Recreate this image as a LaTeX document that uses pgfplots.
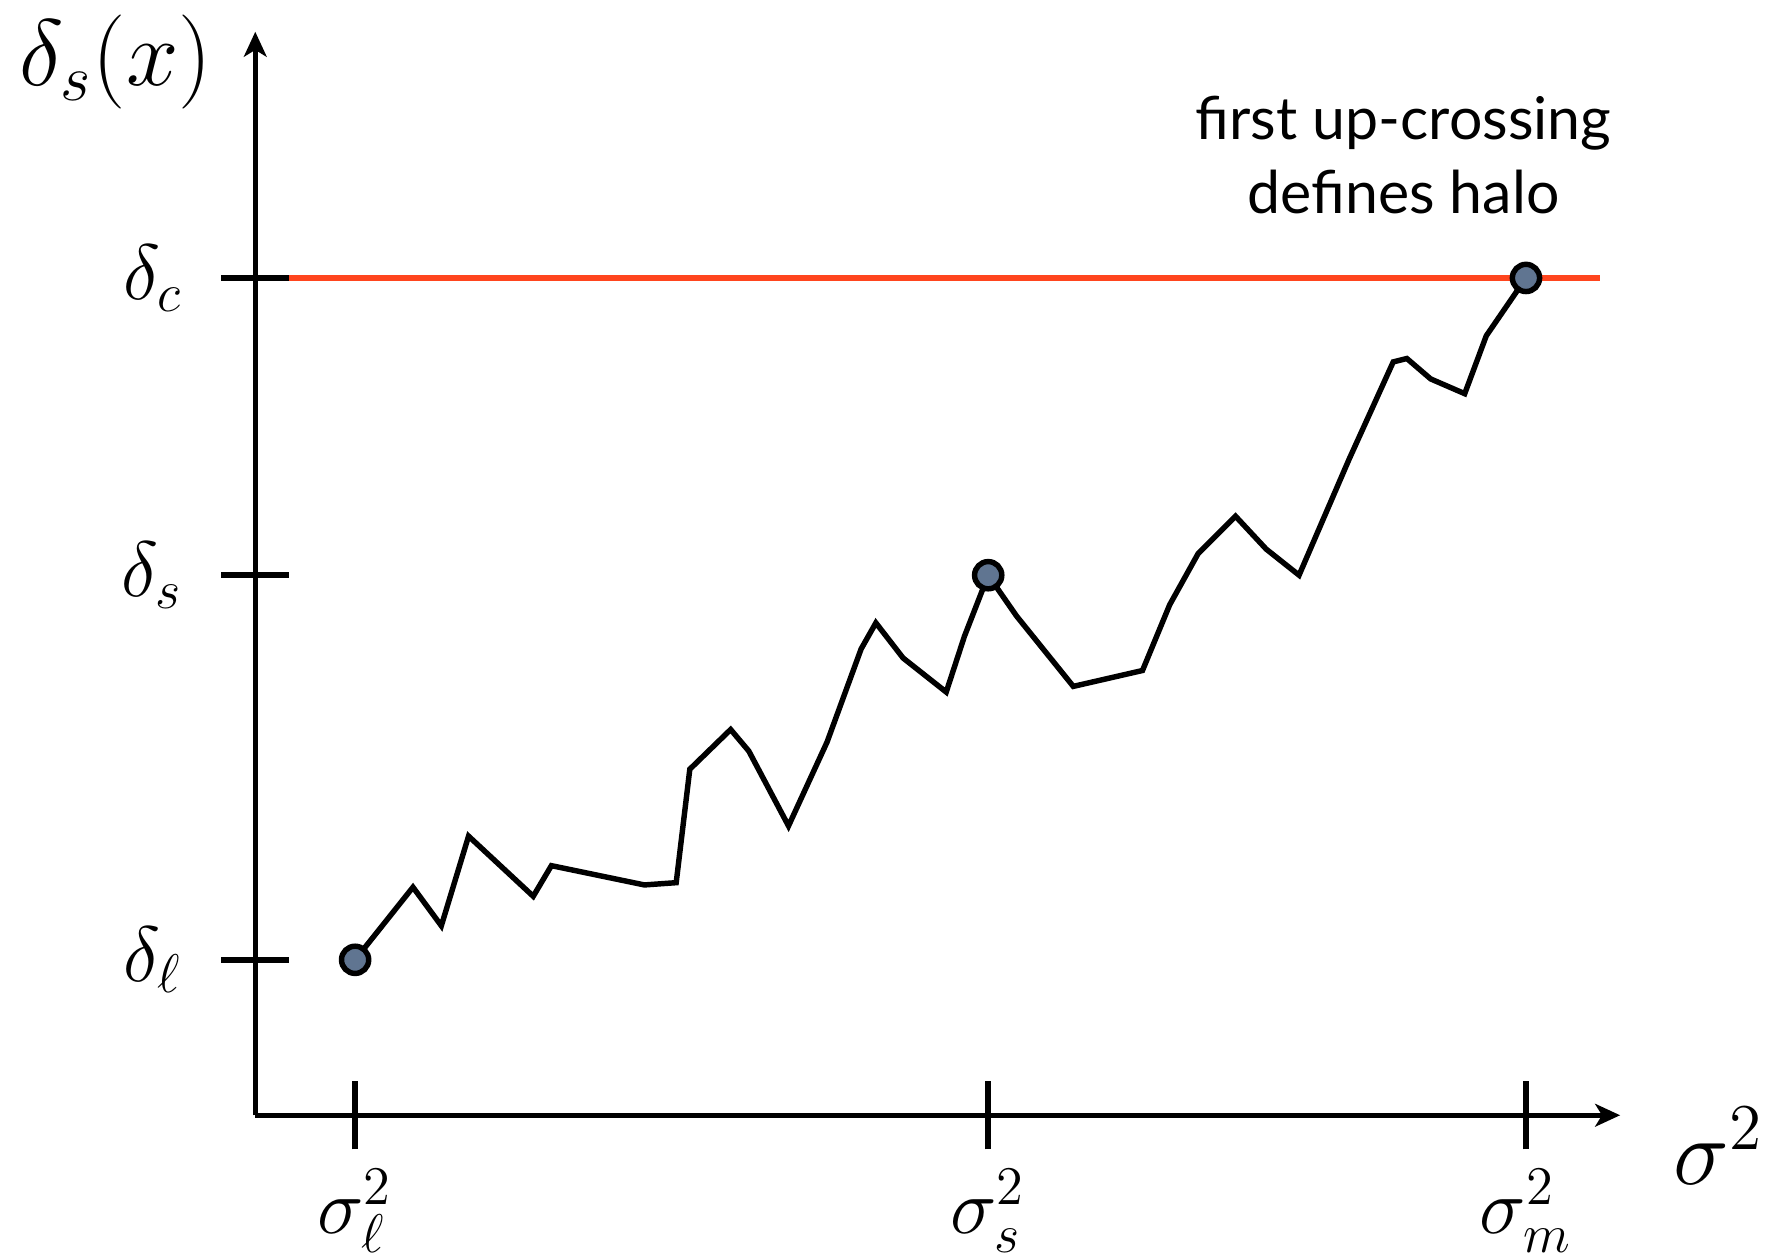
\documentclass[border=0pt]{standalone}
\usepackage{pgfplots}
\pgfplotsset{compat=1.18}
\usepackage{fontspec}
\newfontfamily\notefont{Lato}
\usetikzlibrary{arrows.meta}
\definecolor{critred}{RGB}{255,69,30}
\definecolor{dotfill}{RGB}{96,117,145}
\begin{document}
\begin{tikzpicture}
\begin{axis}[
  scale only axis,
  width=300.75pt, height=238.75pt,
  xmin=225, xmax=1428, ymin=127, ymax=1082,
  axis lines=left,
  axis line style={line width=1.2pt, -{Stealth[length=5.5pt,width=5pt,inset=1.5pt]}},
  clip=false,
  xtick={313,871,1345},
  xticklabels={$\sigma_\ell^2$,$\sigma_s^2$,$\sigma_m^2$},
  ytick={264,603,865},
  yticklabels={$\delta_\ell$,$\delta_s$,$\delta_c$},
  tick align=center,
  major tick length=15pt,
  tick style={line width=1.2pt, black},
  xticklabel style={font=\fontsize{17}{19}\selectfont, anchor=north, yshift=-1pt},
  yticklabel style={font=\fontsize{17}{19}\selectfont, anchor=east, xshift=-5pt},
]
\addplot[critred, line width=1.2pt, forget plot] coordinates {(255,865) (1410,865)};
\addplot[black, line width=1.2pt, line join=miter, no marks] coordinates {
(313,264) (364,328) (389,294) (413,373) (470,320) (486,347) (568,330) (596,332)
(608,432) (644,467) (660,448) (695,382) (729,456) (759,538) (772,561) (796,530)
(834,500) (850,549) (871,603) (896,567) (946,505) (1007,519) (1031,577) (1056,622)
(1089,655) (1116,626) (1145,603) (1189,705) (1228,791) (1240,794) (1261,776)
(1291,763) (1310,814) (1345,865)};
\addplot[only marks, mark=*, mark size=3pt, mark options={fill=dotfill, draw=black, line width=1.2pt}]
  coordinates {(313,264) (871,603) (1345,865)};
\node at (axis cs:102,1055) {\fontsize{21}{23}\selectfont $\delta_s(x)$};
\node at (axis cs:1515,100) {\fontsize{20}{22}\selectfont $\sigma^2$};
\node[align=center, font=\notefont\fontsize{13}{16.25}\selectfont] at (axis cs:1237,973) {first up-crossing\\defines halo};
\coordinate (BL) at (axis cs:0,0);
\coordinate (TR) at (axis cs:1568,1110);
\end{axis}
\pgfresetboundingbox
\path[use as bounding box] (BL) rectangle (TR);
\end{tikzpicture}
\end{document}
